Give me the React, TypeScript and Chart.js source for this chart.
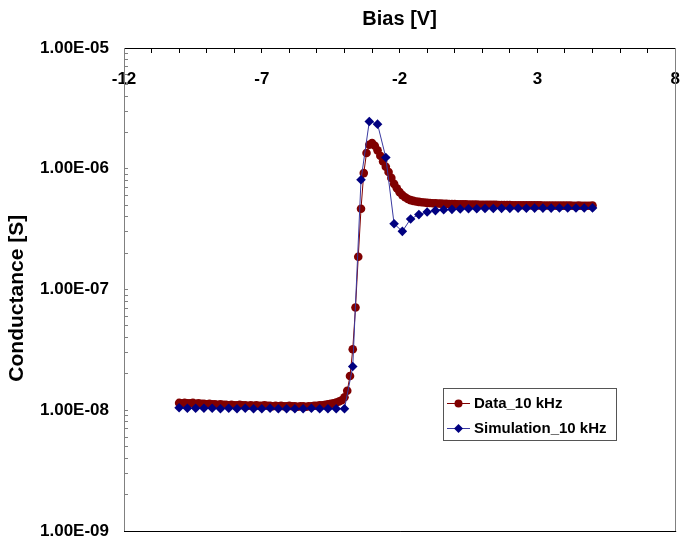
import { useEffect, useRef } from 'react';
import { Chart, registerables } from 'chart.js';

Chart.register(...registerables);

const FONT = '"Liberation Sans", Arial, sans-serif';

// Measured data (red circles), bias step 0.1 V
const DATA_BIAS = [
  -10, -9.9, -9.8, -9.7, -9.6, -9.5, -9.4, -9.3, -9.2, -9.1,
  -9, -8.9, -8.8, -8.7, -8.6, -8.5, -8.4, -8.3, -8.2, -8.1,
  -8, -7.9, -7.8, -7.7, -7.6, -7.5, -7.4, -7.3, -7.2, -7.1,
  -7, -6.9, -6.8, -6.7, -6.6, -6.5, -6.4, -6.3, -6.2, -6.1,
  -6, -5.9, -5.8, -5.7, -5.6, -5.5, -5.4, -5.3, -5.2, -5.1,
  -5, -4.9, -4.8, -4.7, -4.6, -4.5, -4.4, -4.3, -4.2, -4.1,
  -4, -3.9, -3.8, -3.7, -3.6, -3.5, -3.4, -3.3, -3.2, -3.1,
  -3, -2.9, -2.8, -2.7, -2.6, -2.5, -2.4, -2.3, -2.2, -2.1,
  -2, -1.9, -1.8, -1.7, -1.6, -1.5, -1.4, -1.3, -1.2, -1.1,
  -1, -0.9, -0.8, -0.7, -0.6, -0.5, -0.4, -0.3, -0.2, -0.1,
  0, 0.1, 0.2, 0.3, 0.4, 0.5, 0.6, 0.7, 0.8, 0.9,
  1, 1.1, 1.2, 1.3, 1.4, 1.5, 1.6, 1.7, 1.8, 1.9,
  2, 2.1, 2.2, 2.3, 2.4, 2.5, 2.6, 2.7, 2.8, 2.9,
  3, 3.1, 3.2, 3.3, 3.4, 3.5, 3.6, 3.7, 3.8, 3.9,
  4, 4.1, 4.2, 4.3, 4.4, 4.5, 4.6, 4.7, 4.8, 4.9,
  5,
];

const DATA_G = [
  1.15e-8, 1.14e-8, 1.15e-8, 1.14e-8, 1.14e-8, 1.15e-8, 1.13e-8, 1.14e-8, 1.13e-8, 1.13e-8,
  1.12e-8, 1.13e-8, 1.12e-8, 1.12e-8, 1.11e-8, 1.12e-8, 1.11e-8, 1.11e-8, 1.10e-8, 1.11e-8,
  1.10e-8, 1.10e-8, 1.11e-8, 1.10e-8, 1.10e-8, 1.09e-8, 1.10e-8, 1.09e-8, 1.10e-8, 1.09e-8,
  1.09e-8, 1.10e-8, 1.09e-8, 1.09e-8, 1.08e-8, 1.09e-8, 1.08e-8, 1.09e-8, 1.08e-8, 1.08e-8,
  1.09e-8, 1.08e-8, 1.08e-8, 1.07e-8, 1.08e-8, 1.08e-8, 1.07e-8, 1.08e-8, 1.08e-8, 1.09e-8,
  1.09e-8, 1.10e-8, 1.10e-8, 1.11e-8, 1.12e-8, 1.13e-8, 1.14e-8, 1.16e-8, 1.18e-8, 1.21e-8,
  1.28e-8, 1.45e-8, 1.92e-8, 3.2e-8, 7.1e-8, 1.87e-7, 4.67e-7, 9.2e-7, 1.35e-6, 1.58e-6,
  1.63e-6, 1.55e-6, 1.42e-6, 1.28e-6, 1.15e-6, 1.04e-6, 9.4e-7, 8.4e-7, 7.5e-7, 6.9e-7,
  6.4e-7, 6.05e-7, 5.8e-7, 5.62e-7, 5.5e-7, 5.42e-7, 5.36e-7, 5.32e-7, 5.28e-7, 5.25e-7,
  5.22e-7, 5.2e-7, 5.18e-7, 5.17e-7, 5.15e-7, 5.14e-7, 5.13e-7, 5.12e-7, 5.11e-7, 5.1e-7,
  5.09e-7, 5.08e-7, 5.08e-7, 5.07e-7, 5.07e-7, 5.06e-7, 5.06e-7, 5.05e-7, 5.05e-7, 5.04e-7,
  5.04e-7, 5.03e-7, 5.03e-7, 5.02e-7, 5.02e-7, 5.02e-7, 5.01e-7, 5.01e-7, 5.0e-7, 5.0e-7,
  5.0e-7, 4.99e-7, 4.99e-7, 4.99e-7, 4.98e-7, 4.98e-7, 4.98e-7, 4.98e-7, 4.97e-7, 4.97e-7,
  4.97e-7, 4.97e-7, 4.96e-7, 4.96e-7, 4.96e-7, 4.96e-7, 4.96e-7, 4.95e-7, 4.95e-7, 4.95e-7,
  4.95e-7, 4.95e-7, 4.95e-7, 4.94e-7, 4.94e-7, 4.95e-7, 4.94e-7, 4.94e-7, 4.94e-7, 4.94e-7,
  4.95e-7,
];

// Simulation (blue diamonds), bias step 0.3 V
const SIM_BIAS = [
  -10, -9.7, -9.4, -9.1, -8.8, -8.5, -8.2, -7.9, -7.6, -7.3,
  -7, -6.7, -6.4, -6.1, -5.8, -5.5, -5.2, -4.9, -4.6, -4.3,
  -4, -3.7, -3.4, -3.1, -2.8, -2.5, -2.2, -1.9, -1.6, -1.3,
  -1, -0.7, -0.4, -0.1, 0.2, 0.5, 0.8, 1.1, 1.4, 1.7,
  2, 2.3, 2.6, 2.9, 3.2, 3.5, 3.8, 4.1, 4.4, 4.7,
  5,
];

const SIM_G = [
  1.05e-8, 1.04e-8, 1.04e-8, 1.04e-8, 1.04e-8, 1.03e-8, 1.04e-8, 1.03e-8, 1.04e-8, 1.03e-8,
  1.03e-8, 1.04e-8, 1.03e-8, 1.03e-8, 1.03e-8, 1.03e-8, 1.04e-8, 1.03e-8, 1.03e-8, 1.03e-8,
  1.03e-8, 2.3e-8, 8.1e-7, 2.46e-6, 2.34e-6, 1.24e-6, 3.5e-7, 3.03e-7, 3.84e-7, 4.17e-7,
  4.38e-7, 4.5e-7, 4.57e-7, 4.61e-7, 4.64e-7, 4.66e-7, 4.67e-7, 4.68e-7, 4.69e-7, 4.7e-7,
  4.7e-7, 4.71e-7, 4.71e-7, 4.72e-7, 4.72e-7, 4.72e-7, 4.73e-7, 4.73e-7, 4.73e-7, 4.73e-7,
  4.74e-7,
];

const SERIES_LABELS = ['Data_10 kHz', 'Simulation_10 kHz'];
const X_TICK_LABELS = [-12, -7, -2, 3, 8];
const Y_TICK_LABELS = ['1.00E-09', '1.00E-08', '1.00E-07', '1.00E-06', '1.00E-05'];
const Y_DECADES = [-9, -8, -7, -6, -5];
const X_TITLE = 'Bias [V]';
const Y_TITLE = 'Conductance [S]';

const RED = '#800000';
const NAVY = '#000080';

const frameAndLegend = {
  id: 'frameAndLegend',
  afterDraw(chart: any) {
    const { ctx, chartArea } = chart;
    const { left, right, top, bottom } = chartArea;
    ctx.save();
    // plot-area frame: right (gray) and bottom (black)
    ctx.lineWidth = 1;
    ctx.strokeStyle = '#808080';
    ctx.beginPath();
    ctx.moveTo(Math.round(right) + 0.5, top);
    ctx.lineTo(Math.round(right) + 0.5, bottom);
    ctx.stroke();
    ctx.strokeStyle = '#000';
    ctx.beginPath();
    ctx.moveTo(left, Math.round(bottom) + 0.5);
    ctx.lineTo(right + 1, Math.round(bottom) + 0.5);
    ctx.stroke();

    // legend box
    const x0 = Math.round(left + 319);
    const y0 = Math.round(top + 340);
    const w = 173;
    const h = 52;
    ctx.fillStyle = '#fff';
    ctx.fillRect(x0, y0, w, h);
    ctx.strokeStyle = '#555';
    ctx.strokeRect(x0 + 0.5, y0 + 0.5, w, h);
    ctx.font = `bold 15px ${FONT}`;
    ctx.textBaseline = 'middle';
    ctx.textAlign = 'left';
    chart.data.datasets.forEach((ds: any, i: number) => {
      const cy = y0 + 15.5 + i * 25;
      ctx.strokeStyle = ds.borderColor;
      ctx.lineWidth = 1;
      ctx.beginPath();
      ctx.moveTo(x0 + 4, cy);
      ctx.lineTo(x0 + 27, cy);
      ctx.stroke();
      const mx = x0 + 15.5;
      ctx.fillStyle = ds.pointBackgroundColor;
      ctx.beginPath();
      if (ds.pointStyle === 'rectRot') {
        const r = 4.5;
        ctx.moveTo(mx, cy - r);
        ctx.lineTo(mx + r, cy);
        ctx.lineTo(mx, cy + r);
        ctx.lineTo(mx - r, cy);
        ctx.closePath();
      } else {
        ctx.arc(mx, cy, 4, 0, Math.PI * 2);
      }
      ctx.fill();
      ctx.fillStyle = '#000';
      ctx.fillText(ds.label, x0 + 31, cy + 0.5);
    });
    ctx.restore();
  },
};

export default function App() {
  const ref = useRef<HTMLCanvasElement>(null);

  useEffect(() => {
    document.body.style.margin = '0';
    const canvas = ref.current!;
    const chart = new Chart(canvas, {
      type: 'scatter',
      data: {
        datasets: [
          {
            label: SERIES_LABELS[0],
            data: DATA_BIAS.map((x, i) => ({ x, y: DATA_G[i] })),
            showLine: true,
            borderColor: RED,
            borderWidth: 1,
            backgroundColor: RED,
            pointBackgroundColor: RED,
            pointBorderColor: RED,
            pointBorderWidth: 0,
            pointRadius: 4.3,
            pointStyle: 'circle',
            tension: 0,
            order: 1,
          },
          {
            label: SERIES_LABELS[1],
            data: SIM_BIAS.map((x, i) => ({ x, y: SIM_G[i] })),
            showLine: true,
            borderColor: '#3a3aa0',
            borderWidth: 1,
            backgroundColor: NAVY,
            pointBackgroundColor: NAVY,
            pointBorderColor: NAVY,
            pointBorderWidth: 0,
            pointRadius: 4.8,
            pointStyle: 'rectRot',
            tension: 0,
            order: 0,
          },
        ],
      },
      options: {
        responsive: false,
        animation: false,
        events: [],
        layout: { padding: { left: 0, top: 0, right: 3, bottom: 15 } },
        plugins: {
          legend: { display: false },
          tooltip: { enabled: false },
        },
        scales: {
          x: {
            type: 'linear',
            position: 'top',
            min: -12,
            max: 8,
            ticks: {
              stepSize: 1,
              autoSkip: false,
              maxRotation: 0,
              minRotation: 0,
              mirror: true,
              padding: 21,
              color: '#000',
              font: { family: FONT, size: 17, weight: 'bold' },
              callback: (v: any) => (X_TICK_LABELS.includes(Number(v)) ? String(v) : ''),
            },
            grid: {
              drawOnChartArea: false,
              drawTicks: true,
              tickLength: -5,
              color: '#000',
            },
            border: { display: true, color: '#000', width: 1 },
            title: {
              display: true,
              text: X_TITLE,
              color: '#000',
              font: { family: FONT, size: 20, weight: 'bold' },
              padding: { top: 7, bottom: 0 },
            },
            afterFit: (s: any) => {
              s.height = 48;
              s.paddingLeft = 0;
              s.paddingRight = 0;
            },
          },
          y: {
            type: 'logarithmic',
            position: 'left',
            min: 1e-9,
            max: 1e-5,
            afterBuildTicks: (s: any) => {
              const t: any[] = [];
              Y_DECADES.forEach((e, di) => {
                const last = di === Y_DECADES.length - 1;
                for (let m = 1; m <= (last ? 1 : 9); m++) {
                  t.push({ value: m * Math.pow(10, e), major: m === 1 });
                }
              });
              s.ticks = t;
            },
            ticks: {
              autoSkip: false,
              padding: 19,
              color: '#000',
              font: { family: FONT, size: 17, weight: 'bold' },
              callback: (v: any) => {
                const e = Math.round(Math.log10(Number(v)));
                const idx = Y_DECADES.indexOf(e);
                if (idx >= 0 && Math.abs(Number(v) / Math.pow(10, e) - 1) < 1e-6) return Y_TICK_LABELS[idx];
                return '';
              },
            },
            grid: {
              drawOnChartArea: false,
              drawTicks: true,
              tickLength: -4,
              color: '#808080',
            },
            border: { display: true, color: '#808080', width: 1 },
            title: {
              display: true,
              text: Y_TITLE + '   ',
              color: '#000',
              font: { family: FONT, size: 21, weight: 'bold' },
              padding: { top: 5, bottom: 0 },
            },
            afterFit: (s: any) => {
              s.width = 124;
              s.paddingTop = 0;
              s.paddingBottom = 0;
            },
          },
        },
      },
      plugins: [frameAndLegend],
    } as any);
    return () => chart.destroy();
  }, []);

  return <canvas ref={ref} width={680} height={546} style={{ display: 'block' }} />;
}
